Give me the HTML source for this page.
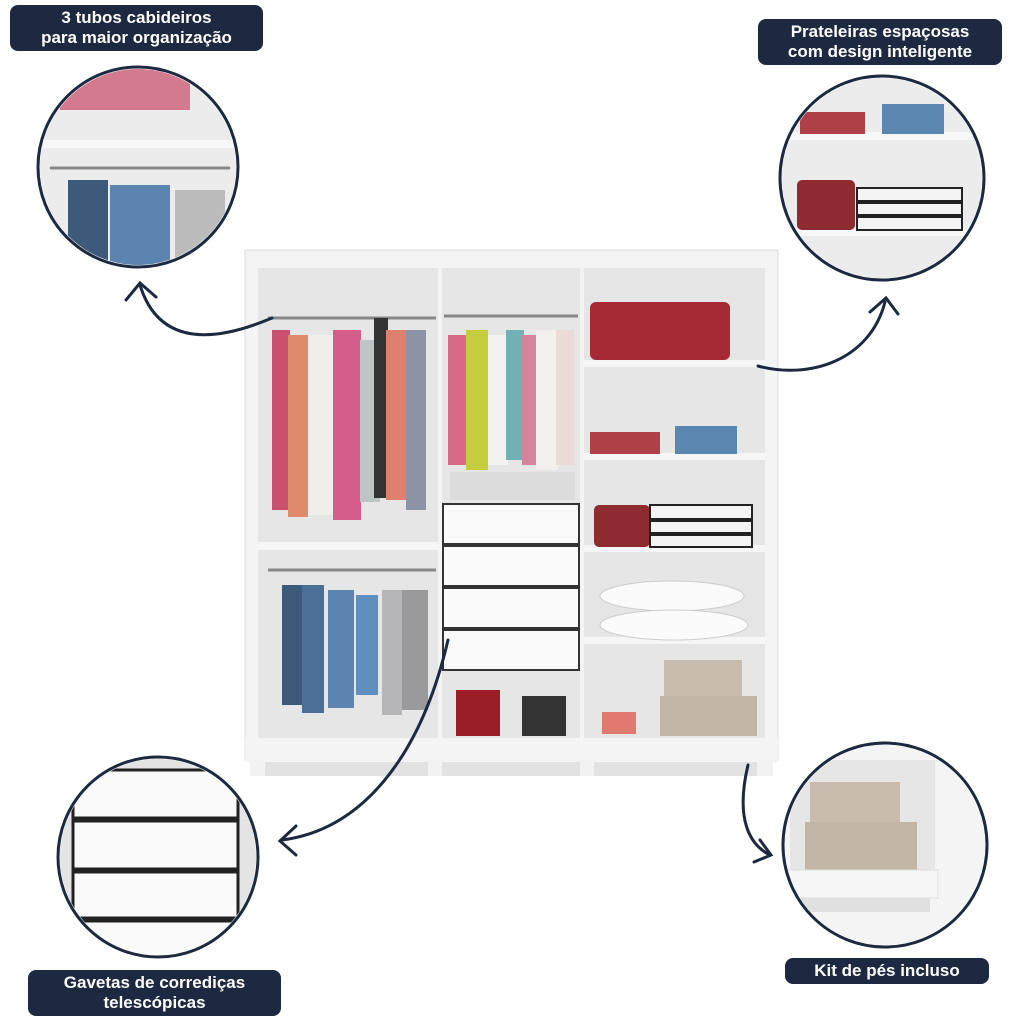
<!DOCTYPE html>
<html><head><meta charset="utf-8"><style>
body{margin:0;background:#fff;width:1024px;height:1024px;overflow:hidden;font-family:"Liberation Sans",sans-serif}
.lbl{position:absolute;background:#1c2940;color:#fff;font-size:17px;text-align:center;line-height:20px;border-radius:8px;padding:3px 8px;font-weight:bold}
</style></head><body>
<svg width="1024" height="1024" style="position:absolute;left:0;top:0">
<defs>
<clipPath id="c1"><circle cx="138" cy="167" r="98"/></clipPath>
<clipPath id="c2"><circle cx="882" cy="178" r="100"/></clipPath>
<clipPath id="c3"><circle cx="158" cy="857" r="98"/></clipPath>
<clipPath id="c4"><circle cx="885" cy="845" r="100"/></clipPath>
</defs>
<!-- wardrobe -->
<rect x="245" y="250" width="533" height="510" fill="#f4f4f4" stroke="#ddd"/>
<rect x="258" y="268" width="180" height="472" fill="#e6e6e6"/>
<rect x="442" y="268" width="138" height="472" fill="#e6e6e6"/>
<rect x="584" y="268" width="181" height="472" fill="#e6e6e6"/>
<rect x="258" y="542" width="180" height="8" fill="#f6f6f6"/>
<rect x="584" y="360" width="181" height="7" fill="#f6f6f6"/>
<rect x="584" y="453" width="181" height="7" fill="#f6f6f6"/>
<rect x="584" y="545" width="181" height="7" fill="#f6f6f6"/>
<rect x="584" y="637" width="181" height="7" fill="#f6f6f6"/>
<rect x="245" y="738" width="533" height="24" fill="#f4f4f4"/>
<rect x="262" y="762" width="500" height="14" fill="#e2e2e2"/>
<rect x="250" y="760" width="15" height="16" fill="#f2f2f2"/><rect x="428" y="760" width="14" height="16" fill="#f2f2f2"/><rect x="580" y="760" width="14" height="16" fill="#f2f2f2"/><rect x="757" y="760" width="16" height="16" fill="#f2f2f2"/>
<!-- drawers -->
<g fill="#fafafa" stroke="#333" stroke-width="2"><rect x="443" y="504" width="136" height="40"/><rect x="443" y="546" width="136" height="40"/><rect x="443" y="588" width="136" height="40"/><rect x="443" y="630" width="136" height="40"/></g>
<!-- rods -->
<g stroke="#888" stroke-width="3"><line x1="268" y1="318" x2="436" y2="318"/><line x1="444" y1="316" x2="578" y2="316"/><line x1="268" y1="570" x2="436" y2="570"/></g>
<!-- clothes top-left -->
<g>
<rect x="272" y="330" width="18" height="180" fill="#c9506e"/><rect x="288" y="335" width="20" height="182" fill="#e08a6c"/><rect x="308" y="335" width="25" height="180" fill="#efeeea"/><rect x="333" y="330" width="28" height="190" fill="#d45d8a"/><rect x="360" y="340" width="20" height="162" fill="#bfc4c7"/><rect x="374" y="318" width="14" height="180" fill="#333"/><rect x="386" y="330" width="22" height="170" fill="#df7f6e"/><rect x="406" y="330" width="20" height="180" fill="#8c93a6"/>
<rect x="448" y="335" width="18" height="130" fill="#d76b86"/><rect x="466" y="330" width="22" height="140" fill="#c4cc40"/><rect x="488" y="335" width="20" height="130" fill="#f2f2f0"/><rect x="506" y="330" width="18" height="130" fill="#6fb1b5"/><rect x="522" y="335" width="16" height="130" fill="#d4849b"/><rect x="536" y="330" width="22" height="140" fill="#f2f0ee"/><rect x="556" y="330" width="18" height="135" fill="#ecdad7"/>
<rect x="450" y="472" width="125" height="28" fill="#dcdcdc"/>
<rect x="282" y="585" width="22" height="120" fill="#3e5a7a"/><rect x="302" y="585" width="22" height="128" fill="#4b6f96"/><rect x="328" y="590" width="26" height="118" fill="#5b85b0"/><rect x="356" y="595" width="22" height="100" fill="#5f8fbc"/><rect x="382" y="590" width="20" height="125" fill="#b6b6b8"/><rect x="402" y="590" width="26" height="120" fill="#9a9a9c"/>
<!-- right column items -->
<rect x="590" y="302" width="140" height="58" rx="6" fill="#a52a36"/>
<rect x="590" y="432" width="70" height="22" fill="#b04048"/><rect x="675" y="426" width="62" height="28" fill="#5a86b0"/>
<rect x="594" y="505" width="56" height="42" rx="5" fill="#8e2b30"/><rect x="650" y="505" width="102" height="42" fill="#f4f4f4" stroke="#222" stroke-width="2"/><line x1="650" y1="520" x2="752" y2="520" stroke="#222" stroke-width="4"/><line x1="650" y1="534" x2="752" y2="534" stroke="#222" stroke-width="4"/>
<ellipse cx="672" cy="596" rx="72" ry="15" fill="#fbfbfb" stroke="#ccc"/><ellipse cx="674" cy="625" rx="74" ry="15" fill="#fbfbfb" stroke="#ccc"/>
<rect x="664" y="660" width="78" height="36" fill="#c9bcae"/><rect x="660" y="696" width="97" height="40" fill="#c2b6a7"/>
<rect x="602" y="712" width="34" height="22" fill="#e07a6e"/>
<rect x="456" y="690" width="44" height="46" fill="#9a1e28"/><rect x="522" y="696" width="44" height="40" fill="#333"/>
</g>
<!-- circles -->
<g clip-path="url(#c1)"><rect x="30" y="60" width="220" height="220" fill="#ececec"/><rect x="60" y="65" width="130" height="45" fill="#d47a8f"/><rect x="40" y="140" width="200" height="8" fill="#f7f7f7"/><line x1="50" y1="168" x2="230" y2="168" stroke="#888" stroke-width="3"/><rect x="68" y="180" width="40" height="90" fill="#3e5a7a"/><rect x="110" y="185" width="60" height="85" fill="#5b85b0"/><rect x="175" y="190" width="50" height="80" fill="#bbb"/></g>
<circle cx="138" cy="167" r="100" fill="none" stroke="#1c2940" stroke-width="3"/>
<g clip-path="url(#c2)"><rect x="770" y="70" width="230" height="220" fill="#ececec"/><rect x="785" y="132" width="190" height="8" fill="#f7f7f7"/><rect x="785" y="228" width="190" height="8" fill="#f7f7f7"/><rect x="800" y="112" width="65" height="22" fill="#b04048"/><rect x="882" y="104" width="62" height="30" fill="#5a86b0"/><rect x="797" y="180" width="58" height="50" rx="5" fill="#8e2b30"/><rect x="857" y="188" width="105" height="42" fill="#f4f4f4" stroke="#222" stroke-width="2"/><line x1="857" y1="202" x2="962" y2="202" stroke="#222" stroke-width="4"/><line x1="857" y1="216" x2="962" y2="216" stroke="#222" stroke-width="4"/></g>
<circle cx="882" cy="178" r="102" fill="none" stroke="#1c2940" stroke-width="3"/>
<g clip-path="url(#c3)"><rect x="55" y="755" width="210" height="210" fill="#e4e4e4"/><g fill="#fafafa" stroke="#222" stroke-width="3"><rect x="73" y="770" width="165" height="48"/><rect x="73" y="821" width="165" height="48"/><rect x="73" y="872" width="165" height="46"/><rect x="73" y="921" width="165" height="40"/></g></g>
<circle cx="158" cy="857" r="100" fill="none" stroke="#1c2940" stroke-width="3"/>
<g clip-path="url(#c4)"><rect x="780" y="740" width="210" height="210" fill="#f4f4f4"/><rect x="790" y="760" width="145" height="110" fill="#e6e6e6"/><rect x="810" y="782" width="90" height="40" fill="#c9bcae"/><rect x="805" y="822" width="112" height="48" fill="#c2b6a7"/><rect x="788" y="870" width="150" height="28" fill="#f6f6f6" stroke="#ddd"/><rect x="790" y="898" width="140" height="14" fill="#e0e0e0"/></g>
<circle cx="885" cy="845" r="102" fill="none" stroke="#1c2940" stroke-width="3"/>
<!-- arrows -->
<g fill="none" stroke="#1c2940" stroke-width="3" stroke-linecap="round">
<path d="M272 318 C220 340 160 350 140 285"/><path d="M126 300 L140 283 L156 297"/>
<path d="M758 366 C810 380 870 360 885 302"/><path d="M870 312 L886 298 L898 314"/>
<path d="M448 640 C420 760 360 830 282 840"/><path d="M296 826 L280 841 L296 855"/>
<path d="M748 765 C735 820 750 845 770 855"/><path d="M754 862 L771 855 L760 840"/>
</g>
</svg>
<div class="lbl" style="left:10px;top:5px;width:237px">3 tubos cabideiros<br>para maior organização</div>
<div class="lbl" style="left:758px;top:19px;width:228px">Prateleiras espaçosas<br>com design inteligente</div>
<div class="lbl" style="left:28px;top:970px;width:237px">Gavetas de corrediças<br>telescópicas</div>
<div class="lbl" style="left:785px;top:958px;width:188px">Kit de pés incluso</div>
</body></html>
